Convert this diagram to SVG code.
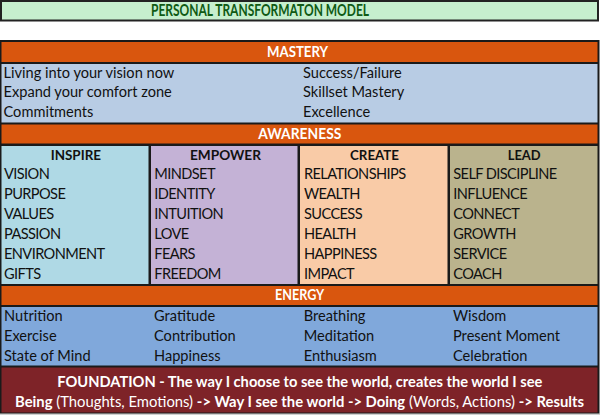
<svg xmlns="http://www.w3.org/2000/svg" width="600" height="415" viewBox="0 0 600 415">
<style>
text{font-family:Lato,"Open Sans","Liberation Sans",sans-serif;fill:#111}
.it{font-size:14.6px}
.cp{letter-spacing:-0.6px}
.hd{font-size:15px;font-weight:bold;fill:#fff}
.ch{font-size:14px;font-weight:bold}
.or{fill:#d9560e}
.fd{font-size:14.5px;fill:#fff}
.b{font-weight:bold}
</style>
<rect x="0" y="0" width="600" height="415" fill="#fff"/>
<g id="title">
<rect x="1" y="1" width="597" height="19.5" fill="#C6EFCE" stroke="#222" stroke-width="2"/>
<text x="151" y="15.5" textLength="218" lengthAdjust="spacingAndGlyphs" style="font-size:16.8px;font-weight:bold;fill:#0f5a14">PERSONAL TRANSFORMATON MODEL</text>
</g>
<rect x="0" y="40" width="599.5" height="374" fill="#1a1a1a"/>
<rect x="0" y="413.5" width="600" height="1.5" fill="#d0d0d0"/>
<g id="mastery">
<rect class="or" x="1.5" y="42" width="596" height="20"/>
<text class="hd" x="267" y="57.3" textLength="61" lengthAdjust="spacingAndGlyphs">MASTERY</text>
<rect x="1.5" y="64" width="596" height="58.5" fill="#b8cce4"/>
<text class="it" x="3.5" y="77.7">Living into your vision now</text>
<text class="it" x="3.5" y="97.2">Expand your comfort zone</text>
<text class="it" x="3.5" y="116.7">Commitments</text>
<text class="it" x="303" y="77.7">Success/Failure</text>
<text class="it" x="303" y="97.2">Skillset Mastery</text>
<text class="it" x="303" y="116.7">Excellence</text>
</g>
<g id="awareness">
<rect class="or" x="1.5" y="124.5" width="596" height="19"/>
<text class="hd" x="258.3" y="139" textLength="83" lengthAdjust="spacingAndGlyphs">AWARENESS</text>
</g>
<g id="inspire">
<rect x="1.5" y="146" width="147" height="138" fill="#afd9e5"/>
<text class="ch" x="50.7" y="160" textLength="50.3" lengthAdjust="spacingAndGlyphs">INSPIRE</text>
<text class="it cp" x="4" y="179.3">VISION</text>
<text class="it cp" x="4" y="199.3">PURPOSE</text>
<text class="it cp" x="4" y="219.3">VALUES</text>
<text class="it cp" x="4" y="239.3">PASSION</text>
<text class="it cp" x="4" y="259.3">ENVIRONMENT</text>
<text class="it cp" x="4" y="279.3">GIFTS</text>
</g>
<g id="empower">
<rect x="151" y="146" width="146.5" height="138" fill="#c4b2d6"/>
<text class="ch" x="190" y="160" textLength="71" lengthAdjust="spacingAndGlyphs">EMPOWER</text>
<text class="it cp" x="154.3" y="179.3">MINDSET</text>
<text class="it cp" x="154.3" y="199.3">IDENTITY</text>
<text class="it cp" x="154.3" y="219.3">INTUITION</text>
<text class="it cp" x="154.3" y="239.3">LOVE</text>
<text class="it cp" x="154.3" y="259.3">FEARS</text>
<text class="it cp" x="154.3" y="279.3">FREEDOM</text>
</g>
<g id="create">
<rect x="300" y="146" width="147.5" height="138" fill="#f9cba7"/>
<text class="ch" x="350" y="160" textLength="49" lengthAdjust="spacingAndGlyphs">CREATE</text>
<text class="it cp" x="304" y="179.3">RELATIONSHIPS</text>
<text class="it cp" x="304" y="199.3">WEALTH</text>
<text class="it cp" x="304" y="219.3">SUCCESS</text>
<text class="it cp" x="304" y="239.3">HEALTH</text>
<text class="it cp" x="304" y="259.3">HAPPINESS</text>
<text class="it cp" x="304" y="279.3">IMPACT</text>
</g>
<g id="lead">
<rect x="450" y="146" width="147.5" height="138" fill="#bab38d"/>
<text class="ch" x="507.7" y="160" textLength="33" lengthAdjust="spacingAndGlyphs">LEAD</text>
<text class="it cp" x="453.3" y="179.3">SELF DISCIPLINE</text>
<text class="it cp" x="453.3" y="199.3">INFLUENCE</text>
<text class="it cp" x="453.3" y="219.3">CONNECT</text>
<text class="it cp" x="453.3" y="239.3">GROWTH</text>
<text class="it cp" x="453.3" y="259.3">SERVICE</text>
<text class="it cp" x="453.3" y="279.3">COACH</text>
</g>
<g id="energy">
<rect class="or" x="1.5" y="286" width="596" height="19"/>
<text class="hd" x="275" y="300" textLength="49.3" lengthAdjust="spacingAndGlyphs">ENERGY</text>
<rect x="1.5" y="307" width="596" height="58.5" fill="#80a8db"/>
<text class="it" x="4" y="320.8">Nutrition</text>
<text class="it" x="4" y="340.8">Exercise</text>
<text class="it" x="4" y="360.8">State of Mind</text>
<text class="it" x="154" y="320.8">Gratitude</text>
<text class="it" x="154" y="340.8">Contribution</text>
<text class="it" x="154" y="360.8">Happiness</text>
<text class="it" x="303.7" y="320.8">Breathing</text>
<text class="it" x="303.7" y="340.8">Meditation</text>
<text class="it" x="303.7" y="360.8">Enthusiasm</text>
<text class="it" x="453" y="320.8">Wisdom</text>
<text class="it" x="453" y="340.8">Present Moment</text>
<text class="it" x="453" y="360.8">Celebration</text>
</g>
<g id="foundation">
<rect x="1.5" y="367.5" width="596" height="45" fill="#7e2328"/>
<text class="fd b" x="57.3" y="387.3" textLength="485" lengthAdjust="spacingAndGlyphs">FOUNDATION - The way I choose to see the world, creates the world I see</text>
<text class="fd" x="15" y="407.3" textLength="569" lengthAdjust="spacingAndGlyphs"><tspan class="b">Being</tspan> (Thoughts, Emotions) <tspan class="b">-&gt; Way I see the world -&gt; Doing</tspan> (Words, Actions) <tspan class="b">-&gt; Results</tspan></text>
</g>
<g id="connectors"></g>
</svg>
